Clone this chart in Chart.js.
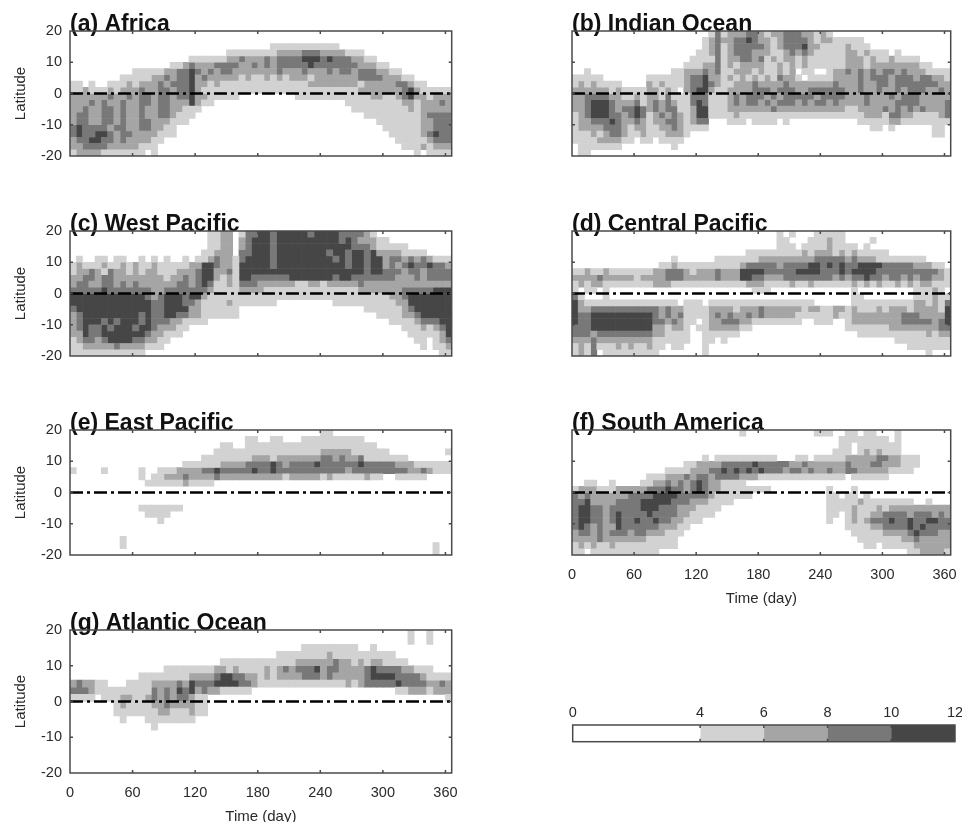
<!DOCTYPE html>
<html>
<head>
<meta charset="utf-8">
<style>
  html, body { margin: 0; background: #fff; overflow: hidden; }
  #page { position: relative; width: 962px; height: 822px; overflow: hidden; }
  canvas { position: absolute; filter: blur(0.5px); }
</style>
<script src="https://cdn.jsdelivr.net/npm/chart.js@4"></script>
</head>
<body>
<div id="page"></div>
<script>
// each row is a 2 degree latitude band from 20N down to 20S, each digit a 6 day column
// digit = shading class, 0 none, 1 4-6, 2 6-8, 3 8-10, 4 10-12
const africaRows = [
  "0000000000 0000000000 0000000000 0000000000 0000000000 0000000000 0",
  "0000000000 0000000000 0000000000 0000000000 0000000000 0000000000 0",
  "0000000000 0000000000 0000000000 0011111111 1110000000 0000000000 0",
  "0000000000 0000000000 0000011111 1112222333 2222111000 0000000000 0",
  "0000000000 0000000001 1111122322 2323333444 3433322110 0000000000 0",
  "0000000000 0000001123 2223333223 2323333343 3333332221 1000000000 0",
  "0000000000 1111122334 3232332222 2223222322 2323323332 2110000000 0",
  "0000000011 1112232334 2322222121 1212122212 2222223333 2221100000 0",
  "1101001112 1222323334 2212111111 1111111122 2222221222 2233211000 0",
  "1121112122 2322332334 2111111111 1111111111 1111112222 2223421111 1",
  "2222223223 2332332334 2211111000 0000001111 1111111122 1123422122 2",
  "2223232232 2332332224 2110000000 0000000000 0000111111 1112212223 2",
  "2232233232 2322332211 1000000000 0000000000 0000011111 1111212222 2",
  "2332233232 2322332111 0000000000 0000000000 0000000111 1111112333 3",
  "2332233232 2332221110 0000000000 0000000000 0000000001 1111112233 3",
  "3433332332 2332211000 0000000000 0000000000 0000000000 1111112233 3",
  "3433443233 2222111000 0000000000 0000000000 0000000000 0111112343 3",
  "2334433232 2221100000 0000000000 0000000000 0000000000 0011111233 3",
  "2233332222 2111000000 0000000000 0000000000 0000000000 0001112122 2",
  "1222211111 1101000000 0000000000 0000000000 0000000000 0000010111 1",
];
const indianRows = [
  "0000000000 0000000000 0013122233 2122333221 2100000000 0000000000 0",
  "0000000000 0000000000 0123223343 2212333321 2211111000 0000000000 0",
  "0000000000 0000000000 0123123333 3212333422 1111211100 0000000000 0",
  "0000000000 0000000000 1123123332 2211232321 1111221211 1010000000 0",
  "0000000000 0000000001 1113122332 3121221211 1111222121 1211110000 0",
  "0000000000 0000000011 1223121222 2112121211 1111222122 2222221100 0",
  "0010000000 0000001122 2323112221 2112120110 0122323232 3323222111 1",
  "1111100000 0011111123 3422121212 1213221011 1122223233 3233323322 1",
  "1212111100 0021211123 3432112223 2222322222 2232223223 3233333332 2",
  "2222221211 1122121023 4421122223 3323332233 3333223223 2232333223 2",
  "2233332211 2122131113 3311123233 3232333332 3333222322 2323332222 2",
  "2234443222 3123232113 4311123233 2323332323 3232222322 2233332222 3",
  "2234443233 4323233112 4411122222 2232222222 2222112222 3232323222 3",
  "1234443323 4312323212 4411112111 1111111111 1111111222 1332211112 3",
  "1223334322 3212233212 3300011101 1110100000 0000001111 1221111111 1",
  "1222233321 2211223211 1100000000 0000000000 0000000011 0100000011 0",
  "1112123321 1211122210 0000000000 0000000000 0000000000 0000000011 0",
  "1111222211 0110111100 0000000000 0000000000 0000000000 0000000000 0",
  "0111111100 0000001000 0000000000 0000000000 0000000000 0000000000 0",
  "0110000000 0000000000 0000000000 0000000000 0000000000 0000000000 0",
];
const westPacificRows = [
  "0000000000 0000000000 0011220133 4434444434 4443333210 0000000000 0",
  "0000000000 0000000000 0011220234 4434444444 4443432221 1000000000 0",
  "0000000000 0000000000 0011220234 4434444444 4444433321 1111000000 0",
  "0000000000 0000000000 0112220334 4434444444 4344344342 2221111000 0",
  "0100110110 0101010010 1123221344 4434444444 4434344344 2332323211 1",
  "1211121121 2112111112 2443221444 4434444444 4444344344 2323433433 2",
  "1223213221 2122111222 3442231444 4444444444 4444444344 3332332333 3",
  "2233233222 2222212232 3442121443 3333344444 4434433333 3322232333 3",
  "2332233232 3222222332 3431121333 2222221122 1222223222 2222222222 2",
  "3333343333 3332233333 3321111222 2111111111 1111112222 2223333344 4",
  "4444444444 4432344434 4211111111 1111111111 1111111111 1223444444 4",
  "4444444444 4443344433 2111121111 1110000000 0011111111 1122444444 4",
  "3444444444 4443344442 2111111000 0000000000 0000000111 1112344444 4",
  "2344444444 4343344332 2111111000 0000000000 0000000001 1112234444 4",
  "2344434344 4343332211 1100000000 0000000000 0000000000 0111123334 4",
  "2343343444 3443222110 0000000000 0000000000 0000000000 0001112123 4",
  "2243344444 4432211100 0000000000 0000000000 0000000000 0000111112 4",
  "1233234444 3322110000 0000000000 0000000000 0000000000 0000011012 3",
  "1122222322 2211100000 0000000000 0000000000 0000000000 0000001011 2",
  "1111111111 1100000000 0000000000 0000000000 0000000000 0000000001 1",
];
const centralPacificRows = [
  "0000000000 0000000000 0000000000 0001010001 1111000000 0000000000 0",
  "0000000000 0000000000 0000000000 0001100011 1211000010 0000000000 0",
  "0000000000 0000000000 0000000000 0001110111 1211110100 0000000000 0",
  "0000000000 0000000000 0000000011 1111111212 2212121111 1000000000 0",
  "0000000000 0000001000 0001111111 2222222223 3333232221 1111111000 0",
  "0000000000 0000112111 1111111233 3332333344 3434334444 3333322211 0",
  "1121121111 1112233321 2223222444 4333334444 3334344443 3333333332 1",
  "2222322222 1222233322 2223222443 3222333333 3323233433 2332323322 1",
  "1212211111 1112221111 1111111122 2111121121 1111121212 1121212211 1",
  "1011010000 0000000000 0000000001 1100000000 0000010000 0000011121 0",
  "3100010000 0000000000 0000000000 0000000000 0000011000 0000011121 1",
  "4211111111 1111111011 1011111111 1111111110 0000011111 1111122121 3",
  "4223333333 3333232211 1122221222 3222222122 1122121112 1222122221 4",
  "4334444444 4443232311 1123232232 3222221111 1121122222 2223332222 4",
  "4334444444 4443323211 0122333221 1111111001 1100122222 2223333323 4",
  "3334444444 4442212210 1122222110 0000000000 0000111111 1222222223 3",
  "3332333333 3332211110 0111111000 0000000000 0000001111 1111111212 2",
  "2223222222 2221111110 0110100000 0000000000 0000000000 0011111111 1",
  "1213111212 1121101100 0100000000 0000000000 0000000000 0000111111 1",
  "1213011111 1111000000 0100000000 0000000000 0000000000 0000000100 0",
];
const eastPacificRows = [
  "0000000000 0000000000 0000000000 0000000000 1100000000 0000000000 0",
  "0000000000 0000000000 0000000011 0011000111 1111111000 0000000000 0",
  "0000000000 0000000000 0000110011 1111111111 1111111110 0000000000 0",
  "0000000000 0000000000 0001111111 1111111111 2222211111 1000000000 1",
  "0000000000 0000000000 0111111112 2212222222 3323223111 1111000000 0",
  "0000000000 0000000011 1111222233 3343233334 3333334333 3322211111 1",
  "1000010000 0100111222 2334333334 3343333333 3333233333 3333223211 1",
  "0000000000 0101122232 2223222222 2222122222 1211111211 0011111000 0",
  "0000000000 0011111121 1110000000 0000000000 0000000000 0000000000 0",
  "0000000000 0000000000 0000000000 0000000000 0000000000 0000000000 0",
  "0000000000 0000000000 0000000000 0000000000 0000000000 0000000000 0",
  "0000000000 0000000000 0000000000 0000000000 0000000000 0000000000 0",
  "0000000000 0111111100 0000000000 0000000000 0000000000 0000000000 0",
  "0000000000 0011110000 0000000000 0000000000 0000000000 0000000000 0",
  "0000000000 0000100000 0000000000 0000000000 0000000000 0000000000 0",
  "0000000000 0000000000 0000000000 0000000000 0000000000 0000000000 0",
  "0000000000 0000000000 0000000000 0000000000 0000000000 0000000000 0",
  "0000000010 0000000000 0000000000 0000000000 0000000000 0000000000 0",
  "0000000010 0000000000 0000000000 0000000000 0000000000 0000000010 0",
  "0000000000 0000000000 0000000000 0000000000 0000000000 0000000010 0",
];
const southAmericaRows = [
  "0000000000 0000000000 0000000100 0000000001 1100110110 0010000000 0",
  "0000000000 0000000000 0000000000 0000000000 0001111111 1010000000 0",
  "0000000000 0000000000 0000000000 0000000000 0001101111 1110000000 0",
  "0000000000 0000000000 0000000000 0000000000 0011101212 1110000000 0",
  "0000000000 0000000000 0101111111 1110001101 1111222223 3221110000 0",
  "0000000000 0000000011 2222333334 3333322322 2222322233 2221110000 0",
  "0000000000 0000011112 2233434343 4333233232 2322332222 2111100000 0",
  "0000000000 0011122232 3323333222 1111111111 1111011111 1000000000 0",
  "0011001000 0112232323 4322111100 0000000000 0000000000 0000000000 0",
  "1222111222 2233343323 4322111111 1100000000 0100010000 0000000000 0",
  "3232222223 3334444333 3321111110 0000000000 0110110100 0000000000 0",
  "3342222333 3444443332 2211110000 0000000000 0111112111 1111100100 0",
  "3443323333 3444333222 1111000000 0000000000 0111121112 1222222222 2",
  "3443323433 3343333221 1110000000 0000000000 0110121122 3333233323 2",
  "3443323433 4334332211 1000000000 0000000000 0100121233 3433433443 3",
  "3432322433 3333222110 0000000000 0000000000 0000111122 3333434333 3",
  "2332323332 3322211100 0000000000 0000000000 0000011111 2222343332 2",
  "2222322222 2211111000 0000000000 0000000000 0000001111 1112232222 2",
  "1212112111 1111111000 0000000000 0000000000 0000000110 1111122222 2",
  "1101111111 1111000000 0000000000 0000000000 0000000000 0000112222 1",
];
const atlanticRows = [
  "0000000000 0000000000 0000000000 0000000000 0000000000 0000100100 0",
  "0000000000 0000000000 0000000000 0000000000 0000000000 0000100100 0",
  "0000000000 0000000000 0000000000 0000000111 1111110010 0000000000 0",
  "0000000000 0000000000 0000000000 0001111111 1211111111 1100000000 0",
  "0000000000 0000000000 0000111111 1111112222 2232212122 1111000000 0",
  "0000000000 0000011111 1112212111 1212323334 2332222343 3332211100 0",
  "0000000000 0111111112 2223443322 1212222333 2322222344 4433332111 1",
  "2322110001 1112222324 3334444332 1111111111 1111212333 3343333223 2",
  "3332111111 1113232434 2322111110 0000000000 0000000000 0011222122 2",
  "1111011122 1123232332 1100000000 0000000000 0000000000 0000000000 1",
  "0000000121 1112232222 1100000000 0000000000 0000000000 0000000000 0",
  "0000000111 1111221112 1100000000 0000000000 0000000000 0000000000 0",
  "0000000010 0011111111 0000000000 0000000000 0000000000 0000000000 0",
  "0000000000 0001000000 0000000000 0000000000 0000000000 0000000000 0",
  "0000000000 0000000000 0000000000 0000000000 0000000000 0000000000 0",
  "0000000000 0000000000 0000000000 0000000000 0000000000 0000000000 0",
  "0000000000 0000000000 0000000000 0000000000 0000000000 0000000000 0",
  "0000000000 0000000000 0000000000 0000000000 0000000000 0000000000 0",
  "0000000000 0000000000 0000000000 0000000000 0000000000 0000000000 0",
  "0000000000 0000000000 0000000000 0000000000 0000000000 0000000000 0",
];

const levelNames = ["4-6", "6-8", "8-10", "10-12"];
const levelColors = ["#d2d2d2", "#a5a5a5", "#787878", "#464646"];
const scaleEdges = [0, 4, 6, 8, 10, 12];
const scaleColors = ["#ffffff", "#d2d2d2", "#a5a5a5", "#787878", "#464646"];
const equatorDays = [0, 366];
const equatorLat = [0, 0];

const FONT = "'Liberation Sans', Arial, sans-serif";
const INK = "#2a2a2a";
const page = document.getElementById("page");

// frame and inward ticks on all four sides, like the original axes box
const boxPlugin = {
  id: "box",
  afterDraw(chart) {
    const { ctx, chartArea: a, scales } = chart;
    ctx.save();
    ctx.strokeStyle = "#4a4a4a";
    ctx.lineWidth = 1.5;
    ctx.strokeRect(a.left, a.top, a.right - a.left, a.bottom - a.top);
    ctx.beginPath();
    scales.x.ticks.forEach((t) => {
      const px = scales.x.getPixelForValue(t.value);
      if (px <= a.left + 1 || px >= a.right - 1) return;
      ctx.moveTo(px, a.top);
      ctx.lineTo(px, a.top + 3);
      ctx.moveTo(px, a.bottom);
      ctx.lineTo(px, a.bottom - 3);
    });
    if (scales.y.type === "linear") {
      scales.y.ticks.forEach((t) => {
        const py = scales.y.getPixelForValue(t.value);
        if (py <= a.top + 1 || py >= a.bottom - 1) return;
        ctx.moveTo(a.left, py);
        ctx.lineTo(a.left + 3, py);
        ctx.moveTo(a.right, py);
        ctx.lineTo(a.right - 3, py);
      });
    }
    ctx.stroke();
    ctx.restore();
  },
};

function makeCanvas(left, top, width, height) {
  const c = document.createElement("canvas");
  c.width = width;
  c.height = height;
  c.style.left = left + "px";
  c.style.top = top + "px";
  c.style.width = width + "px";
  c.style.height = height + "px";
  page.appendChild(c);
  return c.getContext("2d");
}

// one bar dataset per shading class, floating bars in day / latitude units
function cellDatasets(rows) {
  return levelNames.map((name, l) => {
    const cells = [];
    rows.forEach((row, j) => {
      row.replace(/ /g, "").split("").forEach((ch, c) => {
        if (Number(ch) === l + 1) {
          cells.push({ x: 3 + 6 * c, y: [18 - 2 * j, 20 - 2 * j] });
        }
      });
    });
    return {
      type: "bar",
      label: name,
      data: cells,
      backgroundColor: levelColors[l],
      grouped: false,
      barPercentage: 1,
      categoryPercentage: 1,
      order: 2,
    };
  });
}

function drawPanel(p) {
  const isLeft = p.col === 0;
  const canvasLeft = isLeft ? 0 : 560;
  const canvasWidth = isLeft ? 470 : 402;
  const headH = 18;
  const footH = p.timeAxis ? 60 : 6;
  const ctx = makeCanvas(canvasLeft, p.top - headH, canvasWidth, headH + p.height + footH);

  new Chart(ctx, {
    type: "bar",
    data: {
      datasets: cellDatasets(p.rows).concat([
        {
          type: "line",
          label: "equator",
          data: equatorDays.map((d, i) => ({ x: d, y: equatorLat[i] })),
          borderColor: "#000",
          borderWidth: 2.4,
          borderDash: [13, 4, 3, 4],
          pointRadius: 0,
          order: 1,
        },
      ]),
    },
    options: {
      responsive: false,
      animation: false,
      events: [],
      layout: { padding: { right: isLeft ? 18.3 : 11.3 } },
      plugins: {
        legend: { display: false },
        tooltip: { enabled: false },
        title: {
          display: true,
          text: p.title,
          align: "start",
          fullSize: false,
          color: "#111",
          padding: { top: 0, bottom: -5 },
          font: { family: FONT, size: 23, weight: "bold", lineHeight: 1 },
        },
      },
      scales: {
        x: {
          type: "linear",
          offset: false,
          min: 0,
          max: 366,
          grid: { display: false, drawTicks: false, offset: false },
          border: { display: false },
          afterFit: (s) => { s.height = footH; s.paddingLeft = 0; s.paddingRight = 0; },
          ticks: {
            stepSize: 60,
            includeBounds: false,
            maxRotation: 0,
            autoSkip: false,
            padding: 11,
            color: INK,
            font: { family: FONT, size: 14.5 },
            callback: (v) => (p.timeAxis ? v : ""),
          },
          title: {
            display: !!p.timeAxis,
            text: "Time (day)",
            color: INK,
            padding: { top: 0, bottom: 7.6 },
            font: { family: FONT, size: 15 },
          },
        },
        y: {
          min: -20,
          max: 20,
          grid: { display: false, drawTicks: false },
          border: { display: false },
          afterFit: (s) => { s.width = isLeft ? 70 : 12; s.paddingTop = 0; s.paddingBottom = 0; },
          ticks: {
            stepSize: 10,
            padding: 8,
            color: INK,
            font: { family: FONT, size: 14.5 },
            callback: (v) => (isLeft ? v : ""),
          },
          title: {
            display: isLeft,
            text: "Latitude",
            color: INK,
            padding: { top: 12, bottom: 0 },
            font: { family: FONT, size: 15 },
          },
        },
      },
    },
    plugins: [boxPlugin],
  });
}

[
  { title: "(a) Africa", rows: africaRows, col: 0, top: 31, height: 125 },
  { title: "(b) Indian Ocean", rows: indianRows, col: 1, top: 31, height: 125 },
  { title: "(c) West Pacific", rows: westPacificRows, col: 0, top: 231, height: 125 },
  { title: "(d) Central Pacific", rows: centralPacificRows, col: 1, top: 231, height: 125 },
  { title: "(e) East Pacific", rows: eastPacificRows, col: 0, top: 430, height: 125 },
  { title: "(f) South America", rows: southAmericaRows, col: 1, top: 430, height: 125, timeAxis: true },
  { title: "(g) Atlantic Ocean", rows: atlanticRows, col: 0, top: 630, height: 143, timeAxis: true },
].forEach(drawPanel);

// colour scale at the lower right
new Chart(makeCanvas(560, 700, 402, 50), {
  type: "bar",
  data: {
    labels: ["scale"],
    datasets: scaleColors.map((color, i) => ({
      label: scaleEdges[i] + "-" + scaleEdges[i + 1],
      data: [[scaleEdges[i], scaleEdges[i + 1]]],
      backgroundColor: color,
      grouped: false,
      barPercentage: 1,
      categoryPercentage: 1,
    })),
  },
  options: {
    indexAxis: "y",
    responsive: false,
    animation: false,
    events: [],
    layout: { padding: { left: 12.7, right: 7, bottom: 8.3 } },
    plugins: { legend: { display: false }, tooltip: { enabled: false } },
    scales: {
      x: {
        type: "linear",
        position: "top",
        min: 0,
        max: 12,
        grid: { display: false, drawTicks: false },
        border: { display: false },
        afterBuildTicks: (s) => { s.ticks = scaleEdges.map((v) => ({ value: v })); },
        afterFit: (s) => { s.height = 25; s.paddingLeft = 0; s.paddingRight = 0; },
        ticks: {
          maxRotation: 0,
          autoSkip: false,
          padding: 3,
          color: INK,
          font: { family: FONT, size: 14.5 },
        },
      },
      y: { display: false },
    },
  },
  plugins: [boxPlugin],
});
</script>
</body>
</html>
